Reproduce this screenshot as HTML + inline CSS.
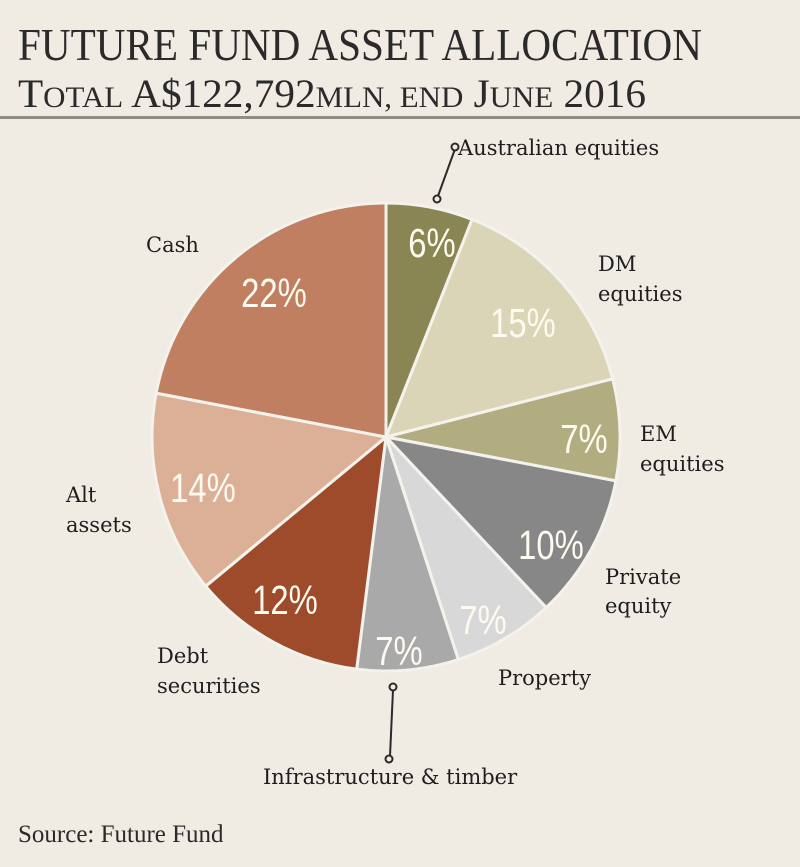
<!DOCTYPE html>
<html><head><meta charset="utf-8"><style>
html,body{margin:0;padding:0;background:#f0ece4;}
svg{display:block}
</style></head><body>
<svg id="s" width="800" height="867" xmlns="http://www.w3.org/2000/svg">
<rect width="800" height="867" fill="#f0ece4"/>
<text x="18" y="60" font-family="Liberation Serif, serif" font-size="46" fill="#2a2a2a" textLength="684" lengthAdjust="spacingAndGlyphs">FUTURE FUND ASSET ALLOCATION</text>
<text x="18" y="107" font-family="Liberation Serif, serif" font-size="40" fill="#2a2a2a" textLength="628" lengthAdjust="spacingAndGlyphs">T<tspan font-size="30">OTAL</tspan> A$122,792<tspan font-size="30">MLN, END</tspan> J<tspan font-size="30">UNE</tspan> 2016</text>
<rect x="0" y="116" width="800" height="3" fill="#8f8b86"/>
<g id="pie"></g>
<g font-family="Liberation Sans, sans-serif" font-size="41" fill="#fffaf0" text-anchor="middle">
<text x="432" y="257" transform="translate(432 0) scale(0.8 1) translate(-432 0)">6%</text>
<text x="523" y="337" transform="translate(523 0) scale(0.8 1) translate(-523 0)">15%</text>
<text x="584" y="453" transform="translate(584 0) scale(0.8 1) translate(-584 0)">7%</text>
<text x="551" y="559" transform="translate(551 0) scale(0.8 1) translate(-551 0)">10%</text>
<text x="483" y="634" transform="translate(483 0) scale(0.8 1) translate(-483 0)">7%</text>
<text x="399" y="665" transform="translate(399 0) scale(0.8 1) translate(-399 0)">7%</text>
<text x="285" y="614" transform="translate(285 0) scale(0.8 1) translate(-285 0)">12%</text>
<text x="203" y="502" transform="translate(203 0) scale(0.8 1) translate(-203 0)">14%</text>
<text x="274" y="307" transform="translate(274 0) scale(0.8 1) translate(-274 0)">22%</text>
</g>
<g font-family="DejaVu Serif, serif" font-size="21" fill="#1e1e1e">
<text x="458" y="155">Australian equities</text>
<text x="146" y="252">Cash</text>
<text x="598" y="271">DM</text><text x="598" y="301">equities</text>
<text x="640" y="441">EM</text><text x="640" y="471">equities</text>
<text x="605" y="584">Private</text><text x="605" y="613">equity</text>
<text x="498" y="685">Property</text>
<text x="157" y="663">Debt</text><text x="157" y="693">securities</text>
<text x="263" y="784">Infrastructure &amp; timber</text>
<text x="66" y="502">Alt</text><text x="66" y="532">assets</text>
</g>
<g stroke="#2a2a2a" stroke-width="2" fill="none">
<line x1="455" y1="149" x2="438" y2="196"/><circle cx="455" cy="147" r="3.5" fill="#f0ece4"/><circle cx="437" cy="199" r="3.5" fill="#f0ece4"/>
<line x1="393" y1="690" x2="390" y2="756"/><circle cx="393" cy="687" r="3.5" fill="#f0ece4"/><circle cx="389" cy="759" r="3.5" fill="#f0ece4"/>
</g>
<text x="18" y="842" font-family="Liberation Serif, serif" font-size="25" fill="#2a2a2a">Source: Future Fund</text>
</svg>
<script>
var cx=386,cy=437,r=234;
var d=[[6,"#8a8654"],[15,"#d9d5b6"],[7,"#b1ad80"],[10,"#878787"],[7,"#d8d8d8"],[7,"#a9a9a9"],[12,"#9d4b2b"],[14,"#dcb096"],[22,"#c07f60"]];
var a=0,g=document.getElementById("pie"),h="";
d.forEach(function(s){var a0=a/100*2*Math.PI;a+=s[0];var a1=a/100*2*Math.PI;
var x0=cx+r*Math.sin(a0),y0=cy-r*Math.cos(a0),x1=cx+r*Math.sin(a1),y1=cy-r*Math.cos(a1);
h+='<path d="M'+cx+' '+cy+'L'+x0+' '+y0+'A'+r+' '+r+' 0 '+(s[0]>50?1:0)+' 1 '+x1+' '+y1+'Z" fill="'+s[1]+'" stroke="#f4f2ec" stroke-width="3" stroke-linejoin="round"/>';});
g.innerHTML=h;
</script>
</body></html>
